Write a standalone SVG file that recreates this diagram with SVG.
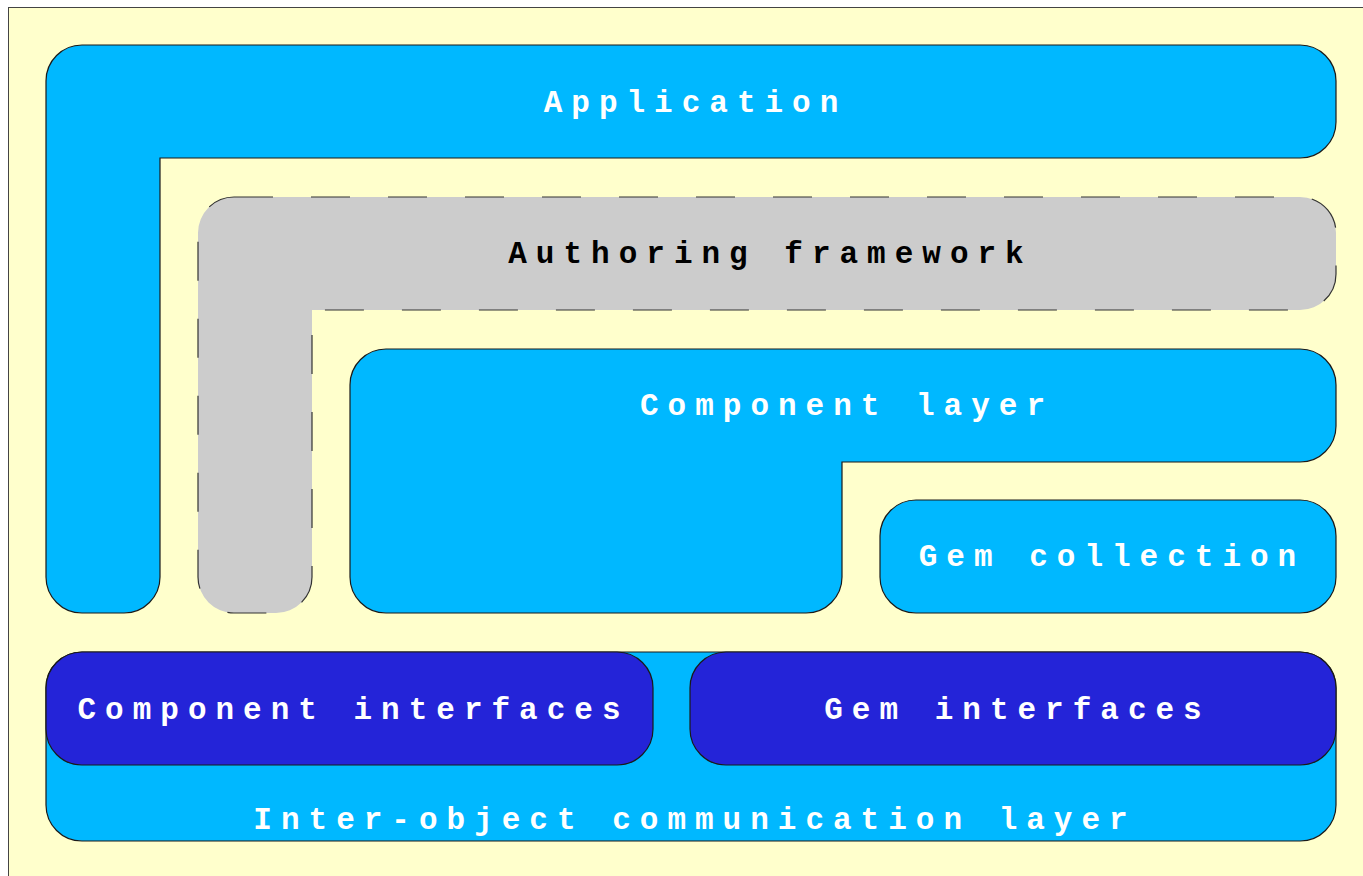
<svg xmlns="http://www.w3.org/2000/svg" width="1363" height="876" viewBox="0 0 1363 876">
<style>
.lb{fill:#00B8FF;stroke:#1a1a1a;stroke-width:1.2}
.db{fill:#2424D8;stroke:#1a1a1a;stroke-width:1.2}
.gr{fill:#CCCCCC;stroke:#333;stroke-width:1.2;stroke-dasharray:39 38}
.t{font-family:"Liberation Mono","Courier New",monospace;font-weight:bold;font-size:31px;letter-spacing:9px;text-anchor:middle;fill:#fff}
.tk{fill:#000}
</style>
<rect x="8.5" y="7.5" width="1400" height="900" fill="#FFFFCC" stroke="#444" stroke-width="1"/>
<g id="application">
<path class="lb" d="M84,45 H1300 A36 36 0 0 1 1336,81 V122 A36 36 0 0 1 1300,158 H160 V577 A36 36 0 0 1 124,613 H82 A36 36 0 0 1 46,577 V81 A36 36 0 0 1 82,45 Z"/>
<text class="t" x="695.5" y="112">Application</text>
</g>
<g id="authoring">
<path class="gr" d="M234,197 H1300 A36 36 0 0 1 1336,233 V274 A36 36 0 0 1 1300,310 H312 V577 A36 36 0 0 1 276,613 H234 A36 36 0 0 1 198,577 V233 A36 36 0 0 1 234,197 Z"/>
<text class="t tk" x="770.5" y="263">Authoring framework</text>
</g>
<g id="component-layer">
<path class="lb" d="M386,349 H1300 A36 36 0 0 1 1336,385 V426 A36 36 0 0 1 1300,462 H842 V577 A36 36 0 0 1 806,613 H386 A36 36 0 0 1 350,577 V385 A36 36 0 0 1 386,349 Z"/>
<text class="t" x="847" y="415">Component layer</text>
</g>
<g id="gem-collection">
<rect class="lb" x="880" y="500" width="456" height="113" rx="36"/>
<text class="t" x="1112" y="566">Gem collection</text>
</g>
<g id="inter-object">
<rect class="lb" x="46" y="652" width="1290" height="189" rx="36"/>
<text class="t" x="695" y="829">Inter-object communication layer</text>
</g>
<g id="component-interfaces">
<rect class="db" x="46" y="652" width="607" height="113" rx="36"/>
<text class="t" x="353.5" y="719">Component interfaces</text>
</g>
<g id="gem-interfaces">
<rect class="db" x="690" y="652" width="646" height="113" rx="36"/>
<text class="t" x="1017.5" y="719">Gem interfaces</text>
</g>
<g id="connectors"></g>
</svg>
